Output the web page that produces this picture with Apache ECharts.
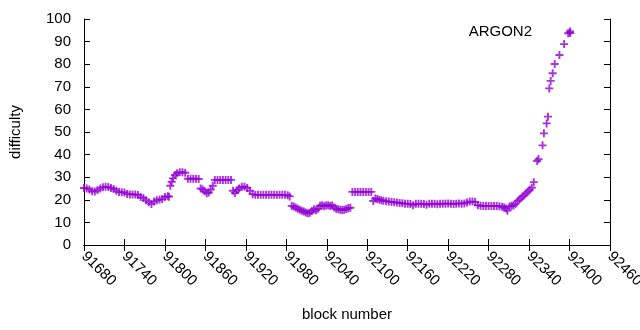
<!DOCTYPE html>
<html>
<head>
<meta charset="utf-8">
<title>ARGON2 difficulty</title>
<script src="https://cdn.jsdelivr.net/npm/echarts@6/dist/echarts.min.js"></script>
<style>
  html, body { margin: 0; padding: 0; background: #fff; }
  #chart { width: 640px; height: 330px; }
</style>
</head>
<body>
<div id="chart"></div>
<script>
// block numbers (x) and difficulty (y)
const blocks = [
  91680, 91684, 91688, 91692, 91696, 91700, 91704, 91708, 91712, 91716,
  91720, 91724, 91728, 91732, 91736, 91740, 91744, 91748, 91752, 91756,
  91760, 91764, 91768, 91772, 91776, 91780, 91784, 91788, 91792, 91796,
  91800, 91804, 91806, 91808, 91810, 91812, 91815, 91818, 91822, 91826,
  91830, 91834, 91838, 91842, 91846, 91850, 91853, 91856, 91859, 91862,
  91865, 91868, 91871, 91874, 91878, 91882, 91886, 91890, 91894, 91898,
  91901, 91904, 91907, 91910, 91914, 91918, 91922, 91926, 91930, 91934,
  91938, 91942, 91946, 91950, 91954, 91958, 91962, 91966, 91970, 91974,
  91978, 91982, 91985, 91988, 91991, 91994, 91997, 92000, 92003, 92006,
  92009, 92012, 92015, 92018, 92021, 92024, 92027, 92030, 92033, 92036,
  92039, 92042, 92045, 92048, 92051, 92054, 92057, 92060, 92063, 92066,
  92069, 92072, 92075, 92078, 92082, 92086, 92090, 92094, 92098, 92102,
  92106, 92109, 92112, 92115, 92118, 92121, 92124, 92128, 92132, 92136,
  92140, 92144, 92148, 92152, 92156, 92160, 92164, 92168, 92172, 92176,
  92180, 92184, 92188, 92192, 92196, 92200, 92204, 92208, 92212, 92216,
  92220, 92224, 92228, 92232, 92236, 92240, 92244, 92248, 92252, 92256,
  92260, 92264, 92268, 92272, 92276, 92280, 92284, 92288, 92292, 92296,
  92300, 92303, 92306, 92308, 92311, 92314, 92317, 92320, 92323, 92326,
  92329, 92332, 92335, 92338, 92341, 92344, 92347, 92352, 92354, 92360,
  92362, 92366, 92368, 92370, 92372, 92375, 92378, 92385, 92392, 92398,
  92401
]
const difficulty = [
  25.2, 25.0, 24.6, 23.8, 23.7, 24.3, 25.0, 25.5, 25.8, 25.7,
  25.2, 24.8, 24.0, 23.4, 23.3, 23.2, 22.6, 22.4, 22.4, 22.4,
  22.1, 21.2, 20.8, 19.8, 18.9, 18.1, 19.2, 19.8, 20.1, 20.3,
  21.2, 21.6, 21.4, 26.2, 28.0, 29.5, 31.0, 31.8, 32.2, 32.2,
  32.0, 29.3, 29.3, 29.3, 29.3, 29.2, 25.0, 24.6, 23.8, 22.9,
  23.2, 24.5, 26.2, 28.8, 28.8, 28.8, 28.8, 28.8, 28.8, 28.8,
  24.0, 23.0, 24.2, 25.0, 25.8, 25.8, 25.2, 24.0, 22.5, 22.2,
  22.2, 22.2, 22.2, 22.2, 22.2, 22.2, 22.2, 22.2, 22.2, 22.2,
  22.2, 22.0, 21.5, 17.3, 17.0, 16.6, 16.0, 15.6, 15.2, 14.8,
  14.4, 14.0, 14.3, 15.0, 15.8, 15.4, 16.0, 17.4, 17.6, 17.2,
  17.5, 17.6, 17.3, 17.5, 16.6, 16.0, 15.8, 15.6, 15.5, 15.6,
  15.9, 16.4, 16.5, 23.5, 23.5, 23.5, 23.5, 23.5, 23.5, 23.5,
  23.5, 19.5, 20.6, 20.4, 20.0, 19.8, 19.6, 19.4, 19.2, 19.0,
  18.9, 18.8, 18.6, 18.5, 18.2, 18.3, 18.1, 17.6, 18.2, 18.3,
  18.2, 18.1, 17.8, 18.2, 18.2, 18.3, 18.0, 18.2, 18.3, 18.2,
  18.4, 18.2, 18.1, 18.3, 18.4, 18.3, 18.4, 18.8, 19.2, 19.2,
  19.0, 17.6, 17.4, 17.3, 17.3, 17.3, 17.3, 17.3, 17.3, 17.2,
  16.9, 16.6, 16.2, 15.2, 17.0, 17.4, 17.5, 18.3, 19.4, 20.2,
  21.0, 21.8, 22.8, 23.6, 24.4, 25.3, 27.8, 37.2, 38.0, 44.1,
  49.4, 53.8, 56.8, 69.3, 72.6, 76.0, 80.1, 84.1, 88.9, 93.7,
  93.8
]

const seriesName = 'ARGON2'
const xMin = 91680, xMax = 92460, xStep = 60
const yMin = 0, yMax = 100, yStep = 10

// gnuplot's "+" point, drawn as a filled path
const plus = 'path://M3.05,0H4.95V3.05H8V4.95H4.95V8H3.05V4.95H0V3.05H3.05Z'
const font = 'Liberation Sans'
const color = '#9400d3'

const chart = echarts.init(document.getElementById('chart'), null, { renderer: 'canvas' })

// gnuplot style: box border, ticks inside on all four sides
const axisLine = { show: true, lineStyle: { color: '#000', width: 1 } }
const tick = { show: true, inside: true, length: 6, lineStyle: { color: '#000' } }
const plain = v => String(v)

const option = {
  animation: false,
  backgroundColor: '#fff',
  grid: { left: 84, right: 30, top: 19, bottom: 85, outerBoundsMode: 'none', containLabel: false },
  legend: {
    data: [seriesName],
    right: 66,
    top: 24,
    padding: 0,
    align: 'right',
    icon: plus,
    itemWidth: 8,
    itemHeight: 8,
    textStyle: { fontFamily: font, fontSize: 15, color: '#000', padding: [0, 29, 0, 0] }
  },
  xAxis: [
    {
      type: 'value',
      min: xMin,
      max: xMax,
      interval: xStep,
      name: 'block number',
      nameLocation: 'middle',
      nameGap: 62,
      nameTextStyle: { fontFamily: font, fontSize: 15, color: '#000' },
      axisLine,
      axisTick: tick,
      splitLine: { show: false },
      axisLabel: {
        rotate: -45,
        margin: 9,
        fontFamily: font,
        fontSize: 15,
        color: '#000',
        formatter: plain,
        showMinLabel: true,
        showMaxLabel: true
      }
    },
    {
      type: 'value',
      position: 'top',
      min: xMin,
      max: xMax,
      interval: xStep,
      axisLine,
      axisTick: tick,
      splitLine: { show: false },
      axisLabel: { show: false }
    }
  ],
  yAxis: [
    {
      type: 'value',
      min: yMin,
      max: yMax,
      interval: yStep,
      name: 'difficulty',
      nameLocation: 'middle',
      nameGap: 61,
      nameTextStyle: { fontFamily: font, fontSize: 15, color: '#000' },
      axisLine,
      axisTick: tick,
      splitLine: { show: false },
      axisLabel: { margin: 13, fontFamily: font, fontSize: 15, color: '#000', formatter: plain }
    },
    {
      type: 'value',
      position: 'right',
      min: yMin,
      max: yMax,
      interval: yStep,
      axisLine,
      axisTick: tick,
      splitLine: { show: false },
      axisLabel: { show: false }
    }
  ],
  series: [
    {
      name: seriesName,
      type: 'scatter',
      symbol: plus,
      symbolSize: 8,
      itemStyle: { color },
      data: blocks.map((b, i) => [b, difficulty[i]])
    }
  ]
}

chart.setOption(option)
</script>
</body>
</html>
